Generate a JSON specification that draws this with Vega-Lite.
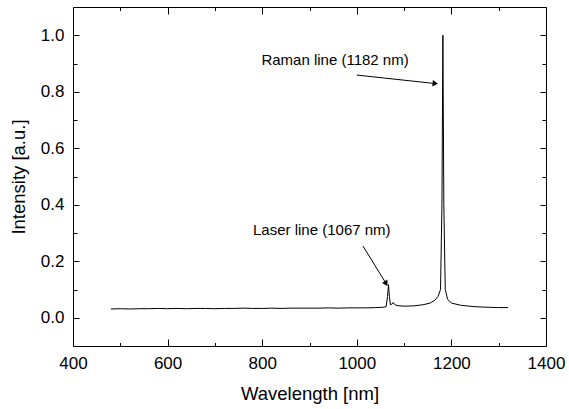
{
  "$schema": "https://vega.github.io/schema/vega-lite/v6.json",
  "width": 473,
  "height": 339,
  "autosize": "none",
  "padding": {"left": 73, "top": 7, "right": 23, "bottom": 63},
  "background": "white",
  "config": {
    "view": {"stroke": "black", "strokeWidth": 1},
    "font": "Liberation Sans",
    "axis": {"domain": false, "grid": false, "tickColor": "black", "labelColor": "black", "titleColor": "black", "labelFont": "Liberation Sans", "titleFont": "Liberation Sans", "labelFontSize": 17, "titleFontSize": 18.5, "titleFontWeight": "normal", "tickWidth": 1}
  },
  "datasets": {
    "spectrum": [
      {"wavelength": 480, "intensity": 0.031},
      {"wavelength": 500, "intensity": 0.032},
      {"wavelength": 520, "intensity": 0.031},
      {"wavelength": 540, "intensity": 0.032},
      {"wavelength": 560, "intensity": 0.032},
      {"wavelength": 580, "intensity": 0.033},
      {"wavelength": 600, "intensity": 0.032},
      {"wavelength": 620, "intensity": 0.033},
      {"wavelength": 640, "intensity": 0.032},
      {"wavelength": 660, "intensity": 0.033},
      {"wavelength": 680, "intensity": 0.033},
      {"wavelength": 700, "intensity": 0.032},
      {"wavelength": 720, "intensity": 0.033},
      {"wavelength": 740, "intensity": 0.033},
      {"wavelength": 760, "intensity": 0.034},
      {"wavelength": 780, "intensity": 0.033},
      {"wavelength": 800, "intensity": 0.033},
      {"wavelength": 820, "intensity": 0.034},
      {"wavelength": 840, "intensity": 0.033},
      {"wavelength": 860, "intensity": 0.034},
      {"wavelength": 880, "intensity": 0.034},
      {"wavelength": 900, "intensity": 0.034},
      {"wavelength": 920, "intensity": 0.034},
      {"wavelength": 940, "intensity": 0.035},
      {"wavelength": 960, "intensity": 0.034},
      {"wavelength": 980, "intensity": 0.035},
      {"wavelength": 1000, "intensity": 0.035},
      {"wavelength": 1020, "intensity": 0.035},
      {"wavelength": 1040, "intensity": 0.036},
      {"wavelength": 1055, "intensity": 0.037},
      {"wavelength": 1062, "intensity": 0.039},
      {"wavelength": 1065, "intensity": 0.075},
      {"wavelength": 1067, "intensity": 0.117},
      {"wavelength": 1069, "intensity": 0.075},
      {"wavelength": 1071, "intensity": 0.046},
      {"wavelength": 1074, "intensity": 0.048},
      {"wavelength": 1077, "intensity": 0.054},
      {"wavelength": 1080, "intensity": 0.047},
      {"wavelength": 1085, "intensity": 0.043},
      {"wavelength": 1100, "intensity": 0.041},
      {"wavelength": 1120, "intensity": 0.042},
      {"wavelength": 1140, "intensity": 0.046},
      {"wavelength": 1155, "intensity": 0.052},
      {"wavelength": 1165, "intensity": 0.062},
      {"wavelength": 1172, "intensity": 0.076},
      {"wavelength": 1177, "intensity": 0.1},
      {"wavelength": 1180, "intensity": 0.4},
      {"wavelength": 1182, "intensity": 1.0},
      {"wavelength": 1184, "intensity": 0.4},
      {"wavelength": 1187, "intensity": 0.1},
      {"wavelength": 1192, "intensity": 0.065},
      {"wavelength": 1200, "intensity": 0.052},
      {"wavelength": 1220, "intensity": 0.044},
      {"wavelength": 1250, "intensity": 0.039},
      {"wavelength": 1280, "intensity": 0.037},
      {"wavelength": 1300, "intensity": 0.036},
      {"wavelength": 1320, "intensity": 0.036}
    ],
    "labels": [
      {"wavelength": 954, "intensity": 0.912, "label": "Raman line (1182 nm)"},
      {"wavelength": 926, "intensity": 0.31, "label": "Laser line (1067 nm)"}
    ],
    "arrows": [
      {"x1": 1000, "y1": 0.859, "x2": 1166, "y2": 0.829, "angle": 6.4},
      {"x1": 1013, "y1": 0.254, "x2": 1062, "y2": 0.121, "angle": 58.4}
    ]
  },
  "resolve": {"axis": {"x": "independent", "y": "independent"}},
  "layer": [
    {
      "data": {"name": "spectrum"},
      "mark": {"type": "line", "color": "black", "strokeWidth": 1},
      "encoding": {
        "x": {"field": "wavelength", "type": "quantitative", "scale": {"domain": [400, 1400], "nice": false, "zero": false},
              "axis": {"orient": "bottom", "values": [400, 600, 800, 1000, 1200, 1400], "format": "d", "ticks": false, "labelPadding": 9, "title": "Wavelength [nm]", "titlePadding": 13, "labelFlush": false}},
        "y": {"field": "intensity", "type": "quantitative", "scale": {"domain": [-0.1, 1.1], "nice": false, "zero": false},
              "axis": {"orient": "left", "values": [0, 0.2, 0.4, 0.6, 0.8, 1.0], "format": ".1f", "ticks": false, "labelPadding": 9, "title": "Intensity [a.u.]", "titlePadding": 12, "labelFlush": false}}
      }
    },
    {
      "data": {"name": "spectrum"},
      "mark": {"type": "point", "opacity": 0},
      "encoding": {
        "x": {"field": "wavelength", "type": "quantitative", "scale": {"domain": [400, 1400], "nice": false, "zero": false},
              "axis": {"orient": "top", "offset": -339, "values": [400, 600, 800, 1000, 1200, 1400], "tickSize": 7, "labels": false, "title": null}},
        "y": {"field": "intensity", "type": "quantitative", "scale": {"domain": [-0.1, 1.1], "nice": false, "zero": false},
              "axis": {"orient": "right", "offset": -473, "values": [0, 0.2, 0.4, 0.6, 0.8, 1.0], "tickSize": 6, "labels": false, "title": null}}
      }
    },
    {
      "data": {"name": "spectrum"},
      "mark": {"type": "point", "opacity": 0},
      "encoding": {
        "x": {"field": "wavelength", "type": "quantitative", "scale": {"domain": [400, 1400], "nice": false, "zero": false},
              "axis": {"orient": "top", "offset": -339, "values": [500, 700, 900, 1100, 1300], "tickSize": 3.5, "labels": false, "title": null}},
        "y": {"field": "intensity", "type": "quantitative", "scale": {"domain": [-0.1, 1.1], "nice": false, "zero": false},
              "axis": {"orient": "right", "offset": -473, "values": [0.1, 0.3, 0.5, 0.7, 0.9], "tickSize": 4, "labels": false, "title": null}}
      }
    },
    {
      "data": {"name": "spectrum"},
      "mark": {"type": "point", "opacity": 0},
      "encoding": {
        "x": {"field": "wavelength", "type": "quantitative", "scale": {"domain": [400, 1400], "nice": false, "zero": false},
              "axis": {"orient": "bottom", "offset": -339, "values": [400, 600, 800, 1000, 1200, 1400], "tickSize": 7, "labels": false, "title": null}},
        "y": {"field": "intensity", "type": "quantitative", "scale": {"domain": [-0.1, 1.1], "nice": false, "zero": false},
              "axis": {"orient": "left", "offset": -473, "values": [0, 0.2, 0.4, 0.6, 0.8, 1.0], "tickSize": 6, "labels": false, "title": null}}
      }
    },
    {
      "data": {"name": "spectrum"},
      "mark": {"type": "point", "opacity": 0},
      "encoding": {
        "x": {"field": "wavelength", "type": "quantitative", "scale": {"domain": [400, 1400], "nice": false, "zero": false},
              "axis": {"orient": "bottom", "offset": -339, "values": [500, 700, 900, 1100, 1300], "tickSize": 3.5, "labels": false, "title": null}},
        "y": {"field": "intensity", "type": "quantitative", "scale": {"domain": [-0.1, 1.1], "nice": false, "zero": false},
              "axis": {"orient": "left", "offset": -473, "values": [0.1, 0.3, 0.5, 0.7, 0.9], "tickSize": 4, "labels": false, "title": null}}
      }
    },
    {
      "data": {"name": "labels"},
      "mark": {"type": "text", "fontSize": 15, "font": "Liberation Sans", "color": "black", "align": "center", "baseline": "middle"},
      "encoding": {
        "x": {"field": "wavelength", "type": "quantitative", "axis": null},
        "y": {"field": "intensity", "type": "quantitative", "axis": null},
        "text": {"field": "label"}
      }
    },
    {
      "data": {"name": "arrows"},
      "mark": {"type": "rule", "color": "black", "strokeWidth": 1},
      "encoding": {
        "x": {"field": "x1", "type": "quantitative", "axis": null},
        "y": {"field": "y1", "type": "quantitative", "axis": null},
        "x2": {"field": "x2"},
        "y2": {"field": "y2"}
      }
    },
    {
      "data": {"name": "arrows"},
      "mark": {"type": "point", "shape": "triangle-right", "filled": true, "color": "black", "size": 40, "opacity": 1},
      "encoding": {
        "x": {"field": "x2", "type": "quantitative", "axis": null},
        "y": {"field": "y2", "type": "quantitative", "axis": null},
        "angle": {"field": "angle", "type": "quantitative", "scale": null}
      }
    }
  ]
}
